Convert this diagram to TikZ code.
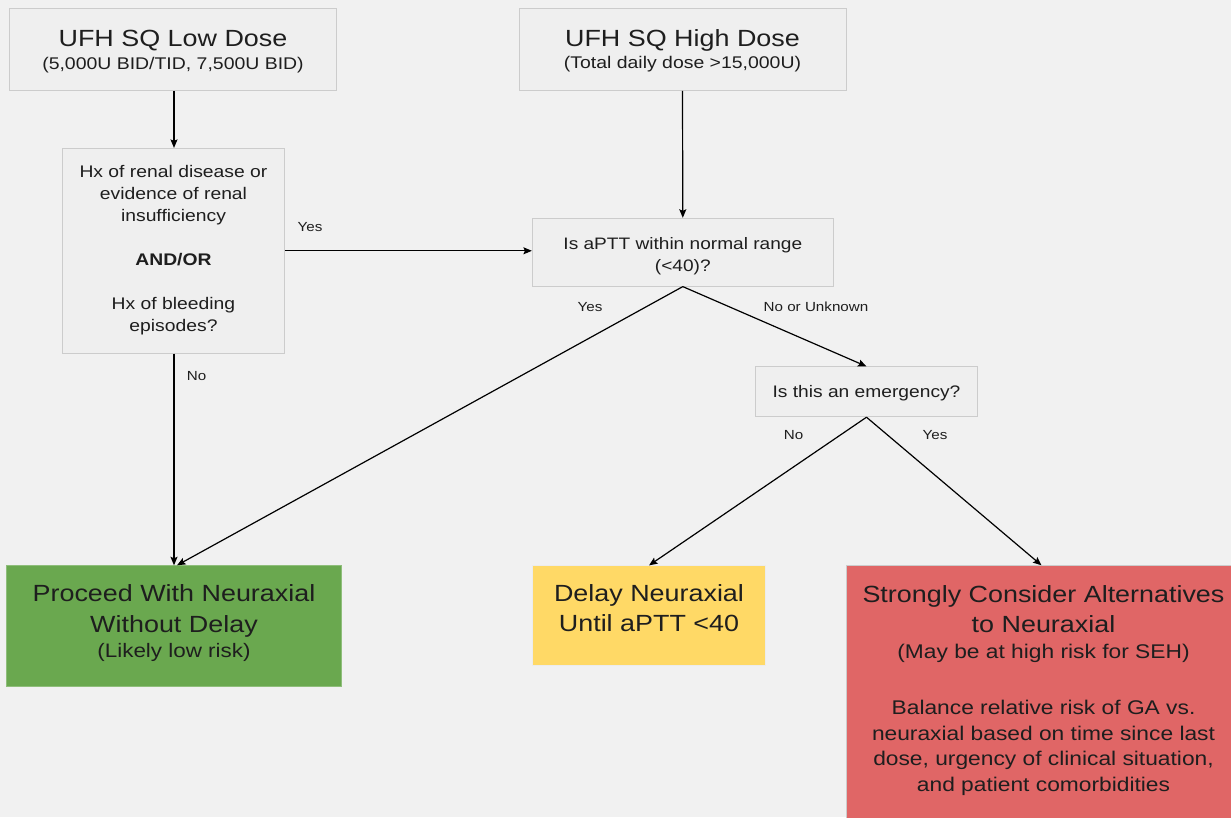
\documentclass[tikz,border=0pt]{standalone}
\usepackage{fontspec}
\setmainfont[FakeStretch=1.15]{Liberation Sans}
\usetikzlibrary{positioning,arrows.meta}
\definecolor{PageGray}{HTML}{F1F1F1}
\definecolor{BoxGray}{HTML}{EFEFEF}
\definecolor{EdgeGray}{HTML}{CCCCCC}
\definecolor{InkGray}{HTML}{1E1E1E}
\definecolor{GoGreen}{HTML}{6AA84F}
\definecolor{WaitYellow}{HTML}{FFD966}
\definecolor{StopRed}{HTML}{E06666}
\newcommand{\fsz}[2]{\fontsize{#1pt}{#2pt}\selectfont}

\begin{document}
\begin{tikzpicture}[x=1pt,y=-1pt,>={Stealth[length=8.5pt,width=7pt,inset=1.5pt]},line width=1.2pt,
  every node/.style={text=InkGray,align=center,inner sep=0pt,text depth=0pt},
  qbox/.style={draw=EdgeGray,fill=BoxGray,line width=0.8pt},
  lbl/.style={font=\fsz{13.2}{15},anchor=base}]
\useasboundingbox (0,0) rectangle (1231,817);
\clip (0,0) rectangle (1231,817);
\fill[PageGray] (0,0) rectangle (1231,817);
% start boxes
\node[qbox,font=\fsz{16.9}{23},minimum width=327pt,minimum height=82pt,text height=39pt] (low) at (173,49.5)
  {\fsz{23.4}{23}UFH SQ Low Dose\\(5,000U BID/TID, 7,500U BID)};
\node[qbox,font=\fsz{16.9}{22.3},minimum width=327pt,minimum height=82pt,text height=37.6pt] (high) at (682.5,49.5)
  {\fsz{23.4}{23}UFH SQ High Dose\\(Total daily dose >15,000U)};
% questions
\node[qbox,font=\fsz{16.8}{22},minimum width=222pt,minimum height=205pt,text height=161.8pt] (renal) at (173.5,250.8)
  {Hx of renal disease or\\evidence of renal\\insufficiency\\[22pt]\textbf{AND/OR}\\[22pt]Hx of bleeding\\episodes?};
\node[qbox,font=\fsz{16.6}{22},minimum width=301pt,minimum height=68pt,text height=37.6pt] (aptt) at (682.8,252.2)
  {Is aPTT within normal range\\(<40)?};
\node[qbox,font=\fsz{16.7}{22},minimum width=222pt,minimum height=50pt,text height=11pt] (emerg) at (866.5,391.8)
  {Is this an emergency?};
% outcomes
\node[draw=GoGreen!75!white,fill=GoGreen,line width=0.8pt,font=\fsz{23.4}{30.6},minimum width=335pt,minimum height=121pt,text height=63pt] (go) at (174,626.2)
  {Proceed With Neuraxial\\Without Delay\\[-5.2pt]\fsz{19.5}{25}(Likely low risk)};
\node[draw=white!85!gray,fill=WaitYellow,line width=0.8pt,font=\fsz{23.4}{29.3},minimum width=233pt,minimum height=100pt,text height=30.4pt] (wait) at (649,615.8)
  {Delay Neuraxial\\Until aPTT <40};
\node[draw=EdgeGray,fill=StopRed,line width=0.8pt,font=\fsz{19.8}{25.5},minimum width=395pt,minimum height=300pt,text height=150.6pt] (stop) at (1043.5,715.7)
  {\fsz{23.4}{25}Strongly Consider Alternatives\\[5pt]\fsz{23.4}{25}to Neuraxial\\[0.5pt]
   (May be at high risk for SEH)\\[30.5pt]
   Balance relative risk of GA vs.\\neuraxial based on time since last\\dose, urgency of clinical situation,\\and patient comorbidities};
% connectors
\draw[->] (low.south -| 174,0) -- (renal.north -| 174,0);
\draw[->] (high.south) -- (aptt.north);
\draw[->] (renal.east) -- (renal.east -| aptt.west);
\draw[->] (renal.south -| 174,0) -- (go.north -| 174,0);
\draw[->] (aptt.south) -- ([xshift=3pt]go.north);
\draw[->] (aptt.south) -- (emerg.north);
\draw[->] (emerg.south) -- (wait.north);
\draw[->] (emerg.south) -- ([xshift=-2pt]stop.north);
% labels
\node[lbl] (yesR) at (310,231.7) {Yes};
\node[lbl] (noR) at (196.5,380) {No};
\node[lbl] (yesA) at (590,311.7) {Yes};
\node[lbl] (noA) at (816,311.7) {No or Unknown};
\node[lbl] (noE) at (793.5,439) {No};
\node[lbl] (yesE) at (935,439) {Yes};
\end{tikzpicture}
\end{document}
